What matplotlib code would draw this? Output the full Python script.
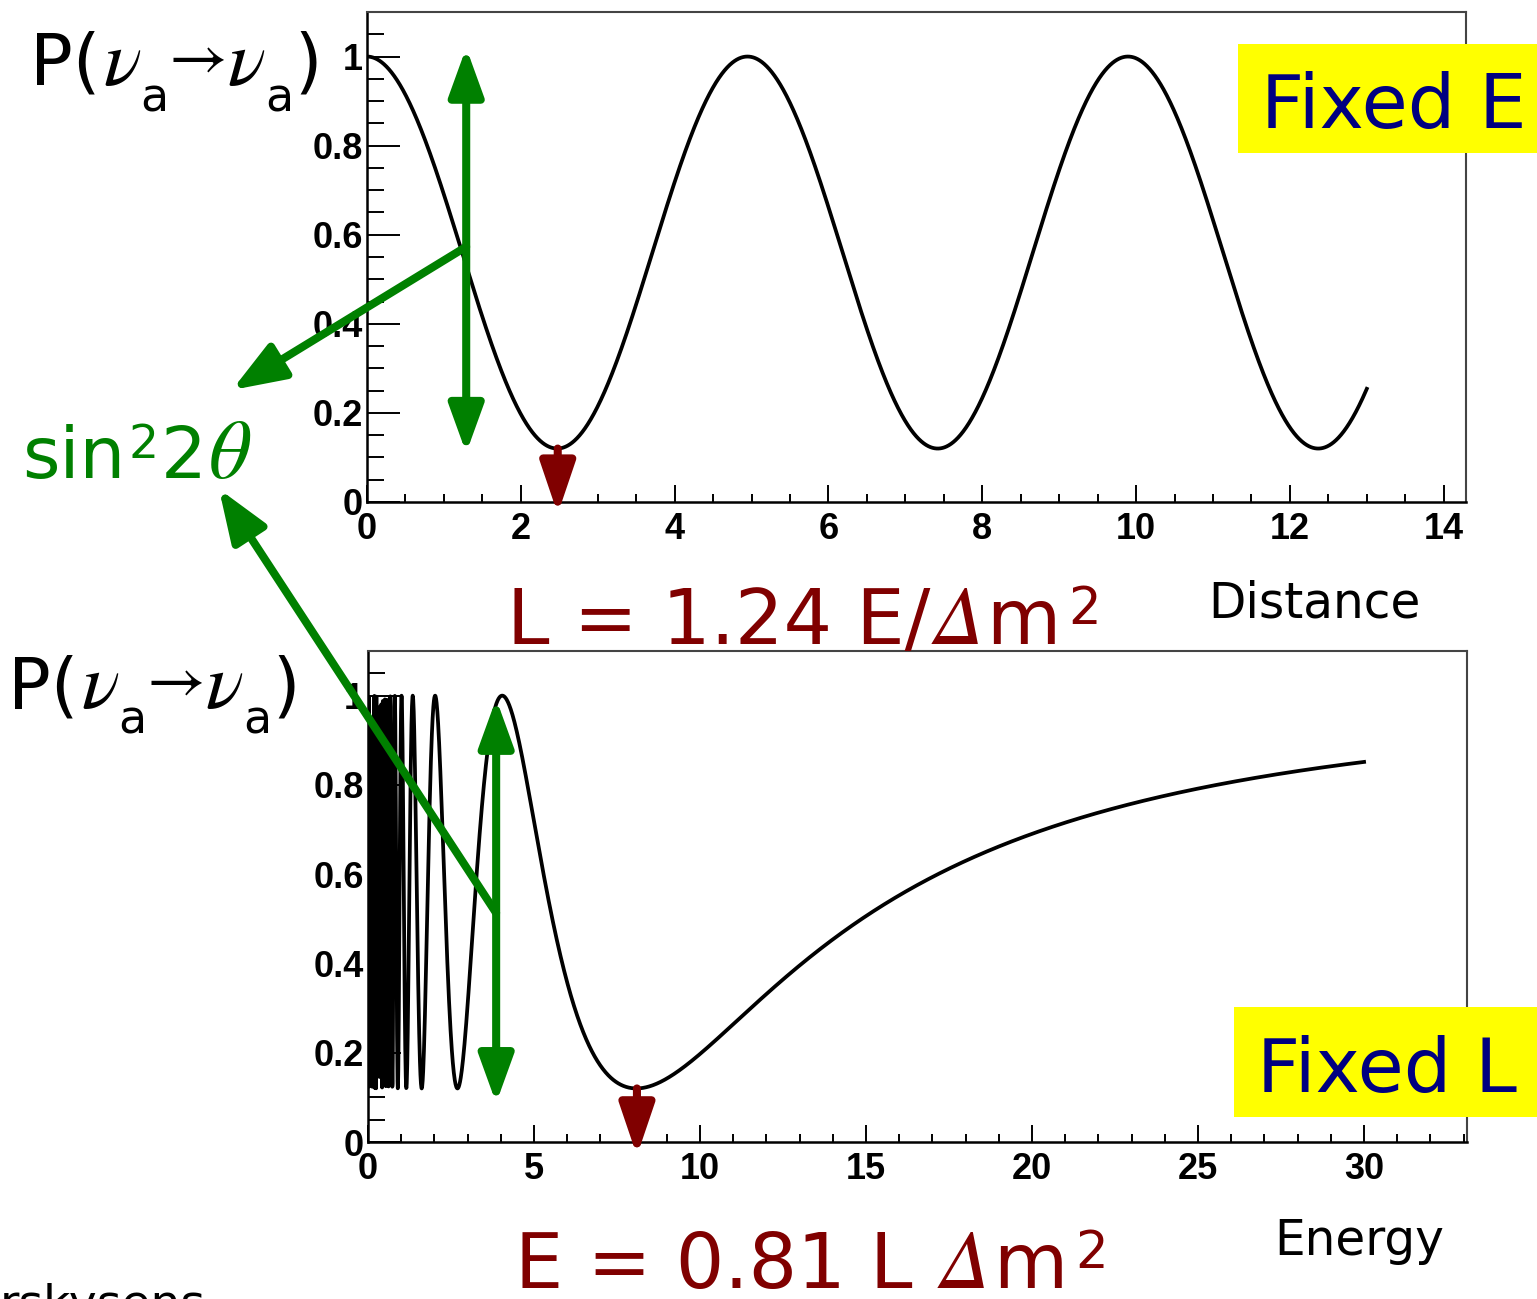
import numpy as np
import matplotlib
matplotlib.use("Agg")
import matplotlib.pyplot as plt
from matplotlib.patches import Rectangle
from matplotlib.ticker import MultipleLocator

# oscillation parameters
SIN2_2THETA = 0.88     # depth of the dips (P_min = 0.12)
DM2 = 1.0              # eV^2
E_FIXED = 2.0          # top panel: energy held fixed
L_FIXED = 10.0         # bottom panel: distance held fixed
L_MAX = 13.0
E_MIN = 0.02
E_MAX = 30.0
N_POINTS = 4000

dist_ticks = [0, 2, 4, 6, 8, 10, 12, 14]
energy_ticks = [0, 5, 10, 15, 20, 25, 30]
prob_ticks = [0, 0.2, 0.4, 0.6, 0.8, 1.0]
prob_labels = ["0", "0.2", "0.4", "0.6", "0.8", "1"]

GREEN = "#008000"
DARKRED = "#800000"
NAVY = "#000080"
YELLOW = "#ffff00"

W, H = 1537, 1299

plt.rcParams['font.family'] = ['DejaVu Sans']


def survival(L, E):
    return 1 - SIN2_2THETA * np.sin(1.27 * DM2 * L / E) ** 2


def fx(x):
    return x / W


def fy(y):
    return 1 - y / H


distance = np.linspace(0, L_MAX, N_POINTS)
energy = np.linspace(E_MIN, E_MAX, N_POINTS)

fig = plt.figure(figsize=(W / 100, H / 100), dpi=100)
renderer = fig.canvas.get_renderer()
ax1 = fig.add_axes([fx(367), fy(502), fx(1466) - fx(367), fy(12) - fy(502)])
ax2 = fig.add_axes([fx(368), fy(1142), fx(1467) - fx(368), fy(651) - fy(1142)])

ax1.plot(distance, survival(distance, E_FIXED), color="black", lw=2.7)
ax2.plot(energy, survival(L_FIXED, energy), color="black", lw=2.7)

tick_font = dict(family="Liberation Sans", weight="bold", size=26)


def style_axes(ax, xticks, xmax, xminor):
    ax.set_xlim(0, xmax)
    ax.set_ylim(0, 1.1)
    ax.set_xticks(xticks)
    ax.set_xticklabels([str(t) for t in xticks], fontdict=tick_font)
    ax.set_yticks(prob_ticks)
    ax.set_yticklabels(prob_labels, fontdict=tick_font)
    ax.xaxis.set_minor_locator(MultipleLocator(xminor))
    ax.yaxis.set_minor_locator(MultipleLocator(0.05))
    ax.tick_params(which="both", direction="in", width=1.4, top=False, right=False)
    ax.tick_params(axis="y", which="major", length=24, pad=3)
    ax.tick_params(axis="y", which="minor", length=12.5)
    ax.tick_params(axis="x", which="major", length=12, pad=7)
    ax.tick_params(axis="x", which="minor", length=6)
    for side in ["left", "bottom"]:
        ax.spines[side].set_linewidth(1.8)
    for side in ["top", "right"]:
        ax.spines[side].set_linewidth(1.5)
        ax.spines[side].set_color("#444444")


style_axes(ax1, dist_ticks, 14.29, 0.5)
style_axes(ax2, energy_ticks, 33.1, 1)

# arrows
double_green = dict(arrowstyle="<|-|>,head_length=29,head_width=10.5", mutation_scale=1,
                    color=GREEN, lw=5.8, shrinkA=0, shrinkB=0)
single_green = dict(arrowstyle="-|>,head_length=32,head_width=12", mutation_scale=1,
                    color=GREEN, lw=5.8, shrinkA=0, shrinkB=0)
red_arrow = dict(arrowstyle="-|>,head_length=31,head_width=10.5", mutation_scale=1,
                 color=DARKRED, lw=5.8, shrinkA=0, shrinkB=0)

p_min = 1 - SIN2_2THETA
ax1.annotate("", xy=(1.29, 1.02), xytext=(1.29, 0.11), arrowprops=double_green,
             annotation_clip=False)
ax2.annotate("", xy=(3.86, 0.993), xytext=(3.86, 0.087), arrowprops=double_green,
             annotation_clip=False)

ax1.annotate("", xy=(fx(232), fy(390)), xycoords="figure fraction",
             xytext=(1.29, 0.573), textcoords="data", arrowprops=single_green,
             annotation_clip=False)
ax2.annotate("", xy=(fx(219), fy(489)), xycoords="figure fraction",
             xytext=(3.86, 0.513), textcoords="data", arrowprops=single_green,
             annotation_clip=False)

ax1.annotate("", xy=(1.24 * E_FIXED / DM2, -0.027), xytext=(1.24 * E_FIXED / DM2, p_min),
             arrowprops=red_arrow, annotation_clip=False)
ax2.annotate("", xy=(0.81 * L_FIXED * DM2, -0.031), xytext=(0.81 * L_FIXED * DM2, p_min),
             arrowprops=red_arrow, annotation_clip=False)


def chain(x, base, pieces, color="black", zorder=3):
    # lay text pieces one after another, each with its own font and vertical shift
    for s, kw, dy, gap in pieces:
        t = fig.text(fx(x), fy(base + dy), s, va="baseline", color=color, zorder=zorder, **kw)
        x += t.get_window_extent(renderer).width + gap


sans = lambda size: dict(fontsize=size, family="DejaVu Sans")
ital = lambda size: dict(fontsize=size, family="STIXGeneral", style="italic")
symb = lambda size: dict(fontsize=size, family="STIXGeneral")

prob_pieces = [
    ("P(", sans(51), 0, 3),
    ("\u03bd", ital(57), 0, 0),
    ("a", sans(33), 26, 0),
    ("\u2192", symb(46), -8, 0),
    ("\u03bd", ital(57), 0, 0),
    ("a", sans(33), 26, 1),
    (")", sans(51), 0, 0),
]
chain(30, 85, prob_pieces)
chain(8, 708, prob_pieces)

chain(22, 478, [("sin", sans(52), 0, 3), ("2", sans(34), -20, 2),
                ("2", sans(52), 0, 2), ("\u03b8", ital(60), 0, 0)], color=GREEN)

chain(507, 644, [("L = 1.24 E/", sans(55), 0, 3), ("\u0394", ital(60), 0, 2),
                 ("m", sans(55), 0, 8), ("2", sans(37), -20, 0)], color=DARKRED)
chain(515, 1288, [("E = 0.81 L ", sans(55), 0, 3), ("\u0394", ital(60), 0, 2),
                  ("m", sans(55), 0, 8), ("2", sans(37), -20, 0)], color=DARKRED)

fig.text(fx(1208), fy(618), "Distance", fontsize=35, va="baseline")
fig.text(fx(1274), fy(1255), "Energy", fontsize=35, va="baseline")
fig.text(fx(0), fy(1318), "rskysens", fontsize=34, va="baseline")

# yellow tags
fig.add_artist(Rectangle((fx(1238), fy(153)), fx(1537) - fx(1238), fy(44) - fy(153),
                         transform=fig.transFigure, facecolor=YELLOW, edgecolor="none",
                         zorder=5))
fig.text(fx(1261), fy(128), "Fixed E", fontsize=54, color=NAVY, va="baseline", zorder=6)
fig.add_artist(Rectangle((fx(1234), fy(1117)), fx(1537) - fx(1234), fy(1007) - fy(1117),
                         transform=fig.transFigure, facecolor=YELLOW, edgecolor="none",
                         zorder=5))
fig.text(fx(1257), fy(1092), "Fixed L", fontsize=54, color=NAVY, va="baseline", zorder=6)

fig.savefig("out.png", dpi=100)
